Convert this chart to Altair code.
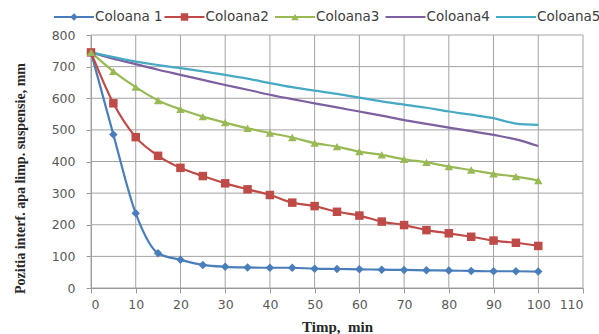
import altair as alt
import pandas as pd

# ---- data ----
times = list(range(0, 105, 5))
series_names = ["Coloana 1", "Coloana2", "Coloana3", "Coloana4", "Coloana5"]
coloana1 = [745, 485, 236, 110, 89, 73, 67, 65, 64, 64, 61, 60, 59, 58, 57, 56, 55, 54, 53, 53, 52]
coloana2 = [745, 584, 477, 418, 380, 354, 331, 312, 294, 270, 259, 241, 229, 210, 199, 183, 173, 162, 150, 143, 133]
coloana3 = [745, 685, 635, 593, 565, 542, 523, 505, 490, 476, 458, 447, 431, 421, 407, 397, 384, 373, 361, 352, 340]
coloana4 = [745, 725, 708, 690, 674, 658, 642, 627, 611, 597, 584, 571, 558, 545, 531, 519, 507, 496, 484, 470, 449]
coloana5 = [745, 730, 716, 705, 695, 685, 674, 662, 648, 635, 624, 614, 602, 590, 580, 570, 558, 548, 537, 520, 516]
x_ticks = [0, 10, 20, 30, 40, 50, 60, 70, 80, 90, 100, 110]
y_ticks = [0, 100, 200, 300, 400, 500, 600, 700, 800]
x_domain = [0, 110]
y_domain = [0, 800]

colors = ["#4A7EBB", "#BE4B48", "#98B954", "#7D60A0", "#46AAC5"]
marker_series = ["Coloana 1", "Coloana2", "Coloana3"]
marker_shapes = ["diamond", "square", "triangle-up"]

rows = []
for name, vals in zip(series_names, [coloana1, coloana2, coloana3, coloana4, coloana5]):
    for t, v in zip(times, vals):
        rows.append({"Timp": t, "Pozitia": v, "Serie": name})
df = pd.DataFrame(rows)
df_markers = df[df["Serie"].isin(marker_series)]
legend_df = pd.DataFrame({"Serie": series_names})
legend_marker_df = pd.DataFrame({"Serie": marker_series})

# grid lines built from the tick lists, spanning the axis domains
grid_rows = []
for t in x_ticks:
    for v in y_domain:
        grid_rows.append({"Timp": t, "Pozitia": v, "g": f"x{t}"})
for v in y_ticks:
    for t in x_domain:
        grid_rows.append({"Timp": t, "Pozitia": v, "g": f"y{v}"})
grid_df = pd.DataFrame(grid_rows)

x_enc = alt.X(
    "Timp:Q",
    scale=alt.Scale(domain=x_domain, nice=False),
    axis=alt.Axis(
        values=x_ticks, title="Timp,\u00a0\u00a0min", grid=False,
        titleFont="Liberation Serif", titleFontWeight="bold", titleFontSize=15,
        titleColor="#262626", titleY=38, titleBaseline="middle",
        labelFont="DejaVu Sans", labelFontSize=12.5, labelColor="#595959",
        labelPadding=5, tickSize=5, tickWidth=1, tickColor="#9A9A9A",
        domainWidth=1, domainColor="#8C8C8C",
    ),
)
y_enc = alt.Y(
    "Pozitia:Q",
    scale=alt.Scale(domain=y_domain, nice=False),
    axis=alt.Axis(
        values=y_ticks, title="Pozitia interf. apa limp. suspensie, mm", grid=False,
        titleFont="Liberation Serif", titleFontWeight="bold", titleFontSize=14,
        titleColor="#262626", titleX=-71, titleY=143, titleBaseline="middle",
        labelFont="DejaVu Sans", labelFontSize=12.5, labelColor="#595959",
        labelPadding=11, tickSize=5, tickWidth=1, tickColor="#9A9A9A",
        domainWidth=1, domainColor="#9A9A9A", labelOverlap=False,
    ),
)
color_scale = alt.Scale(domain=series_names, range=colors)
shape_scale = alt.Scale(domain=marker_series, range=marker_shapes)

grid = alt.Chart(grid_df).mark_line(color="#A3A3A3", strokeWidth=1, opacity=1).encode(
    x=x_enc, y=y_enc, detail=alt.Detail("g:N")
)

lines = alt.Chart(df).mark_line(strokeWidth=2.2, interpolate="monotone").encode(
    x=x_enc,
    y=y_enc,
    color=alt.Color("Serie:N", scale=color_scale, legend=None),
)

points = alt.Chart(df_markers).mark_point(filled=True, size=72, opacity=1).encode(
    x=x_enc,
    y=y_enc,
    color=alt.Color("Serie:N", scale=color_scale, legend=None),
    shape=alt.Shape("Serie:N", scale=shape_scale, legend=None),
)

main = alt.layer(grid, lines, points)

# legend row above the plot
leg_x = alt.X(
    "Serie:N",
    scale=alt.Scale(type="point", domain=series_names, range=[-17, 425], padding=0),
    axis=None,
)
leg_lines = alt.Chart(legend_df).mark_point(
    shape="stroke", size=1600, strokeWidth=2.2, filled=False, opacity=1
).encode(
    x=leg_x, y=alt.value(-18),
    color=alt.Color("Serie:N", scale=color_scale, legend=None),
)
leg_marks = alt.Chart(legend_marker_df).mark_point(filled=True, size=56, opacity=1).encode(
    x=leg_x, y=alt.value(-18),
    color=alt.Color("Serie:N", scale=color_scale, legend=None),
    shape=alt.Shape("Serie:N", scale=shape_scale, legend=None),
)
leg_text = alt.Chart(legend_df).mark_text(
    align="left", baseline="middle", dx=21, font="DejaVu Sans", fontSize=13.5, color="#404040"
).encode(x=leg_x, y=alt.value(-18), text="Serie:N")

legend_layer = alt.layer(leg_lines, leg_marks, leg_text)

chart = alt.layer(main, legend_layer).resolve_scale(x="independent").properties(
    width=492, height=253,
    autosize=alt.AutoSizeParams(type="none"),
    padding={"left": 91, "top": 35, "right": 16, "bottom": 46},
    background="white",
).configure_view(stroke=None)

chart.save("out.html", embed_options={"renderer": "svg", "actions": False})
